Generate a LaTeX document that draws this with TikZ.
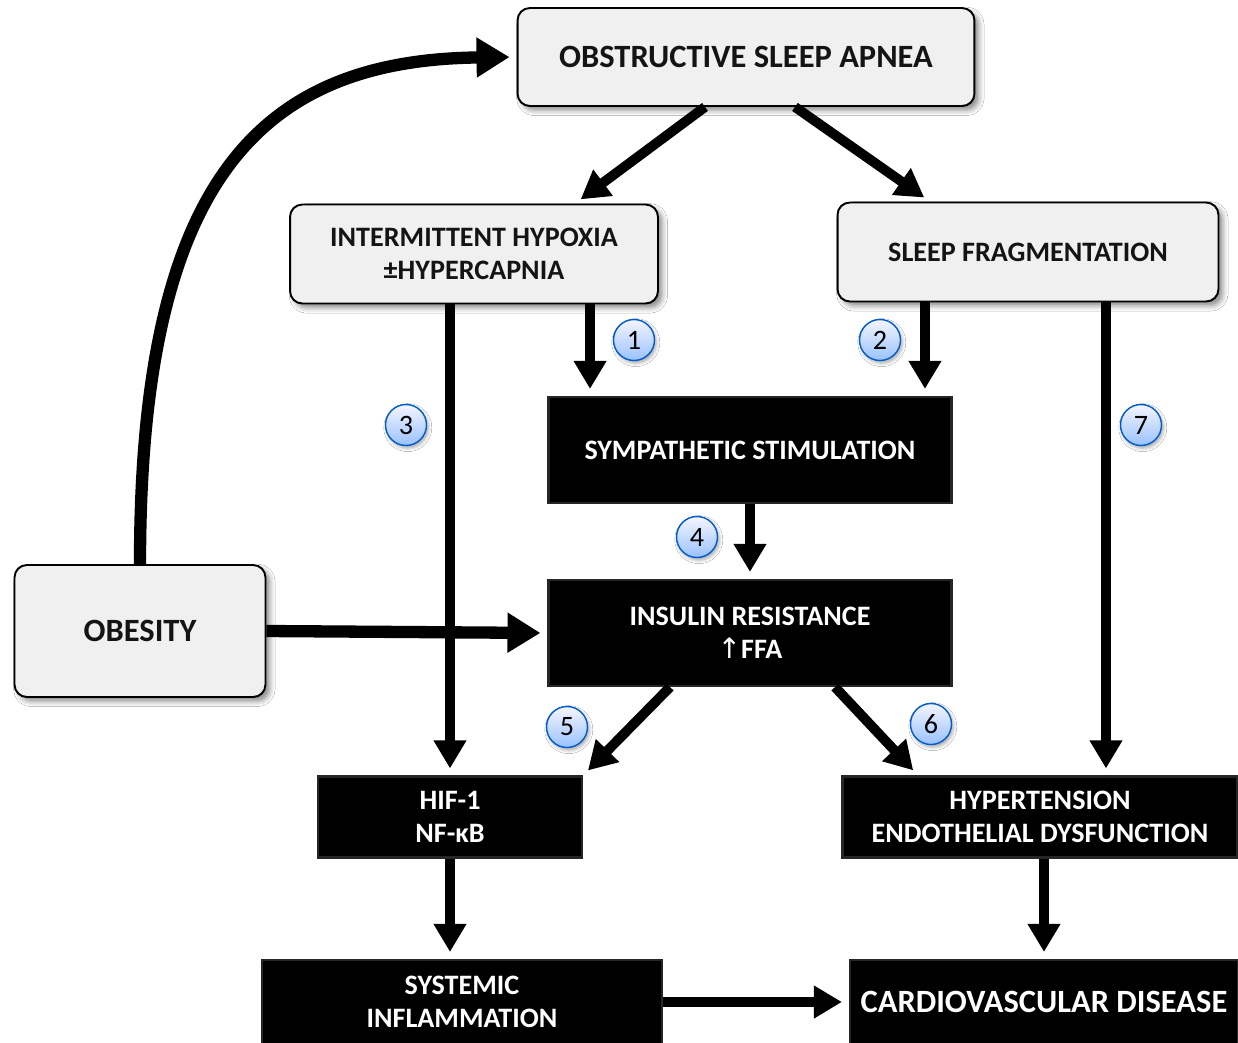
\documentclass[tikz,border=0pt]{standalone}
\usepackage{fontspec}
\setmainfont{Carlito}
\newfontfamily\arrowfont{DejaVu Sans}
\usetikzlibrary{arrows.meta,shadows.blur}

\begin{document}
\begin{tikzpicture}[
  x=0.02cm, y=-0.02cm,
  >={Triangle[length=5.6mm,width=6.2mm]},
  big/.style={font=\bfseries\fontsize{18.5}{22}\selectfont},
  mid/.style={font=\bfseries\fontsize{16}{19}\selectfont},
  cause/.style={rectangle, rounded corners=7pt, draw=black, fill=black!6,
                line width=1.1pt, align=center, text=black!92,
                blur shadow={shadow xshift=2.5pt, shadow yshift=-2.5pt,
                             shadow blur radius=3pt, shadow opacity=45}},
  effect/.style={rectangle, fill=black, draw=black!85, line width=1.2pt,
                 text=white, align=center},
  flow/.style={->, draw=black, line width=5.6pt, shorten >=4pt},
  bigflow/.style={flow, line width=7pt,
                  >={Triangle[length=6.6mm,width=7.6mm]}},
  num/.style={circle, minimum size=0.82cm, inner sep=0pt,
              font=\fontsize{16}{18}\selectfont,
              draw=blue!55!cyan!80!black, line width=0.8pt,
              top color=blue!4, bottom color=cyan!40!blue!40,
              blur shadow={shadow xshift=1pt, shadow yshift=-1.5pt,
                           shadow blur radius=2pt, shadow opacity=35}},
]

% --- fixed bounding box (white background) ---
\fill[white] (0,0) rectangle (1238,1042);
\useasboundingbox (0,0) rectangle (1238,1042);

% ============================ NODES =================================
% top -- obstructive sleep apnea
\node[cause, big, minimum width=9.14cm, minimum height=1.96cm] (osa)
  at (746,57) {OBSTRUCTIVE SLEEP APNEA};

% second band -- hypoxia | fragmentation
\node[cause, mid, minimum width=7.36cm, minimum height=1.98cm] (hypox)
  at (474,254) {INTERMITTENT HYPOXIA\\±HYPERCAPNIA};
\node[cause, mid, minimum width=7.62cm, minimum height=1.98cm] (sfrag)
  at (1028,252) {SLEEP FRAGMENTATION};

% middle column -- black boxes
\node[effect, mid, minimum width=8.06cm, minimum height=2.12cm] (symp)
  at (750,450) {SYMPATHETIC STIMULATION};
\node[effect, mid, minimum width=8.06cm, minimum height=2.12cm] (insres)
  at (750,633) {INSULIN RESISTANCE\\{\arrowfont\mdseries ↑}FFA};

% left -- obesity
\node[cause, big, minimum width=5.02cm, minimum height=2.64cm] (obes)
  at (140,631) {OBESITY};

% lower bands
\node[effect, mid, minimum width=5.28cm, minimum height=1.62cm] (hif)
  at (450,817) {HIF-1\\NF-κB};
\node[effect, mid, minimum width=7.9cm, minimum height=1.62cm] (hyper)
  at (1040,817) {HYPERTENSION\\ENDOTHELIAL DYSFUNCTION};
\node[effect, mid, minimum width=8.0cm, minimum height=1.68cm] (sysinf)
  at (462,1002) {SYSTEMIC\\INFLAMMATION};
\node[effect, big, minimum width=7.76cm, minimum height=1.68cm] (cvd)
  at (1044,1002) {CARDIOVASCULAR DISEASE};

% ============================ EDGES =================================
\draw[flow] ([xshift=-0.82cm]osa.south) -- ([xshift=2.02cm]hypox.north);
\draw[flow] ([xshift=0.98cm]osa.south) -- ([xshift=-1.96cm]sfrag.north);
\draw[flow] ([xshift=-3.2cm]symp.north |- hypox.south) -- ([xshift=-3.2cm]symp.north);
\draw[flow] ([xshift=3.5cm]symp.north |- sfrag.south) -- ([xshift=3.5cm]symp.north);
\draw[flow] (hif.north |- hypox.south) -- (hif.north);
\draw[flow] ([xshift=1.32cm]hyper.north |- sfrag.south) -- ([xshift=1.32cm]hyper.north);
\draw[flow] (symp.south) -- (insres.north);
\draw[flow] ([xshift=-1.6cm]insres.south) -- (hif.north east);
\draw[flow] ([xshift=1.7cm]insres.south) -- ([xshift=-2.44cm]hyper.north);
\draw[flow] (hif.south) -- (hif.south |- sysinf.north);
\draw[flow] (cvd.north |- hyper.south) -- (cvd.north);
\draw[flow] (sysinf.east) -- (cvd.west);

% obesity feeds both OSA and insulin resistance
\draw[bigflow] (obes.east) -- (insres.west);
\draw[bigflow] (obes.north) .. controls (140,180) and (260,60) .. (osa.west);

% pathway numbers
\node[num] (n1) at (634,340) {1};
\node[num] (n2) at (880,340) {2};
\node[num] (n3) at (406,425) {3};
\node[num] (n4) at (697,537) {4};
\node[num] (n5) at (567,727) {5};
\node[num] (n6) at (931,724) {6};
\node[num] (n7) at (1141,425) {7};

\end{tikzpicture}
\end{document}
